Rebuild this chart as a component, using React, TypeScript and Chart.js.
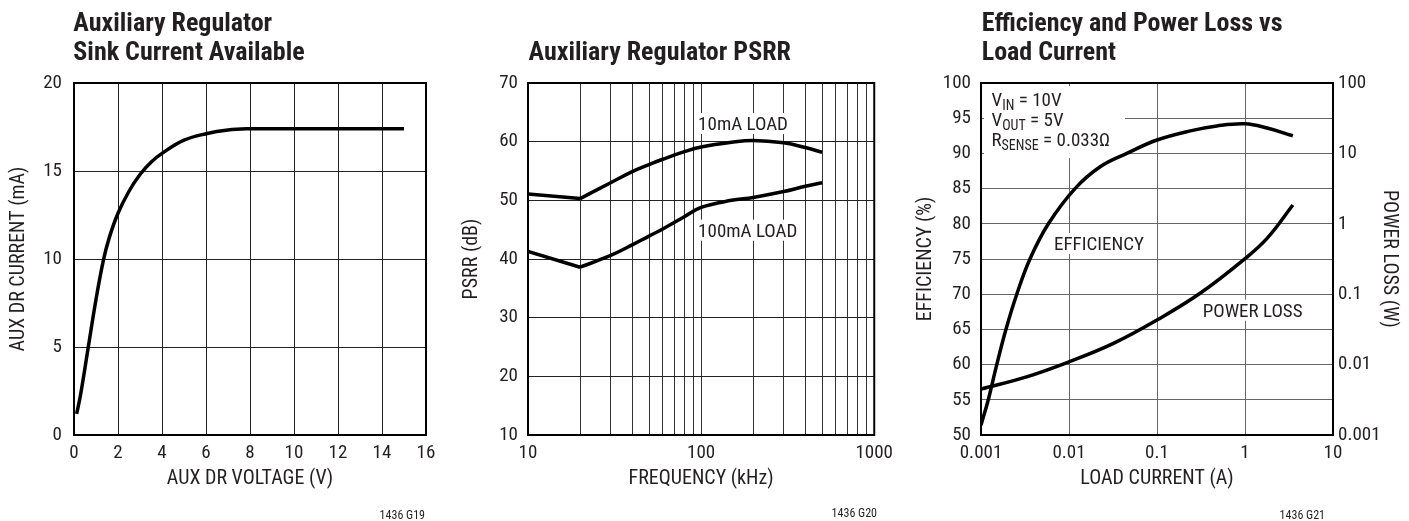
import React, { useEffect, useRef } from "react";
import { Chart, registerables } from "chart.js";

Chart.register(...registerables);

const FONT =
  "'Liberation Sans Narrow', 'Arial Narrow', 'Roboto Condensed', 'DejaVu Sans Condensed', 'Liberation Sans', sans-serif";
const TEXT = "#231f20";

// ---------- Chart 1: Auxiliary Regulator Sink Current Available ----------
const AUX_V = [0.12, 0.3, 0.65, 1.0, 1.33, 1.6, 2.0, 2.5, 3.0, 3.5, 4.0, 5.0, 6.0, 7.0, 8.0, 9.0, 12, 15];
const AUX_I = [1.2, 2.3, 5.0, 7.7, 9.9, 11.2, 12.6, 13.85, 14.8, 15.5, 16.0, 16.75, 17.12, 17.33, 17.4, 17.4, 17.4, 17.4];
const X1_TICKS = [0, 2, 4, 6, 8, 10, 12, 14, 16];
const Y1_TICKS = [0, 5, 10, 15, 20];

// ---------- Chart 2: Auxiliary Regulator PSRR ----------
const FREQ_KHZ = [10, 20, 30, 40, 50, 60, 80, 100, 150, 200, 300, 400, 500];
const PSRR_10MA = [51.1, 50.3, 53.0, 54.9, 56.1, 57.0, 58.3, 59.1, 59.9, 60.2, 59.8, 59.0, 58.2];
const PSRR_100MA = [41.3, 38.6, 40.6, 42.4, 43.9, 45.1, 47.2, 48.8, 50.0, 50.5, 51.5, 52.4, 53.0];
const PSRR_CORNER_INDEX = 1; // sharp corner at 20kHz
const X2_GRID = [10, 20, 30, 40, 50, 60, 70, 80, 90, 100, 200, 300, 400, 500, 600, 700, 800, 900, 1000];
const X2_LABELS = [10, 100, 1000];
const Y2_TICKS = [10, 20, 30, 40, 50, 60, 70];

// ---------- Chart 3: Efficiency and Power Loss vs Load Current ----------
const EFF_I = [0.001, 0.00121, 0.00151, 0.00192, 0.00255, 0.0036, 0.00583, 0.0117, 0.0226, 0.0454, 0.1, 0.239, 0.479, 1.0, 1.78, 3.5];
const EFF = [51.4, 55, 60, 65, 70, 75, 80, 85, 88.1, 90.0, 91.9, 93.2, 93.9, 94.2, 93.6, 92.5];
const LOSS_I = [0.001, 0.0033, 0.0101, 0.032, 0.1, 0.309, 1.0, 1.78, 3.5];
const LOSS_W = [0.0045, 0.0067, 0.011, 0.02, 0.043, 0.103, 0.32, 0.62, 1.85];
const X3_TICKS = [0.001, 0.01, 0.1, 1, 10];
const Y3_TICKS = [50, 55, 60, 65, 70, 75, 80, 85, 90, 95, 100];
const Y3R_TICKS = [0.001, 0.01, 0.1, 1, 10, 100];

const fixedTicks = (values: number[]) => (scale: any) => {
  scale.ticks = values.map((v) => ({ value: v }));
};

const tickFont = { family: FONT, size: 19 };
const titleFont = { family: FONT, size: 20 };

function xy(xs: number[], ys: number[]) {
  return xs.map((x, i) => ({ x, y: ys[i] }));
}

function lineDataset(data: any[], yAxisID = "y", tension = 0.4) {
  return {
    data,
    yAxisID,
    borderColor: "#000",
    borderWidth: 3.5,
    pointRadius: 0,
    fill: false,
    tension,
    borderCapStyle: "butt" as const,
    borderJoinStyle: "round" as const,
  };
}

// a curve with a sharp corner: straight segment up to the corner, smooth afterwards
function cornered(xs: number[], ys: number[], k: number) {
  const pts = xy(xs, ys);
  return [lineDataset(pts.slice(0, k + 1), "y", 0), lineDataset(pts.slice(k), "y", 0.4)];
}

function drawTitle(ctx: CanvasRenderingContext2D, lines: string[], x: number) {
  ctx.font = `bold 26px ${FONT}`;
  ctx.fillStyle = TEXT;
  ctx.textAlign = "left";
  ctx.textBaseline = "alphabetic";
  const base = lines.length === 1 ? [60] : [31, 60];
  lines.forEach((l, i) => ctx.fillText(l, x, base[i]));
}

function drawFootnote(ctx: CanvasRenderingContext2D, s: string, xRight: number, y: number) {
  ctx.font = `12px ${FONT}`;
  ctx.fillStyle = TEXT;
  ctx.textAlign = "right";
  ctx.textBaseline = "middle";
  ctx.fillText(s, xRight, y);
}

function boxedLabel(ctx: CanvasRenderingContext2D, s: string, x: number, baseline: number) {
  ctx.font = `19px ${FONT}`;
  const w = ctx.measureText(s).width;
  ctx.fillStyle = "#fff";
  ctx.fillRect(x - 2, baseline - 17, w + 4, 21);
  ctx.fillStyle = TEXT;
  ctx.textAlign = "left";
  ctx.textBaseline = "alphabetic";
  ctx.fillText(s, x, baseline);
}

function drawFrame(chart: any) {
  const { ctx, chartArea: a } = chart;
  ctx.save();
  ctx.strokeStyle = "#000";
  ctx.lineWidth = 2;
  ctx.strokeRect(a.left, a.top, a.right - a.left, a.bottom - a.top);
  ctx.restore();
}

function subText(ctx: CanvasRenderingContext2D, parts: [string, boolean][], x: number, y: number) {
  let cx = x;
  ctx.fillStyle = TEXT;
  ctx.textAlign = "left";
  ctx.textBaseline = "alphabetic";
  for (const [s, sub] of parts) {
    ctx.font = sub ? `14px ${FONT}` : `19px ${FONT}`;
    ctx.fillText(s, cx, sub ? y + 3.5 : y);
    cx += ctx.measureText(s).width;
  }
  return cx;
}

function baseScale(extra: any) {
  return {
    grid: { color: "#222", lineWidth: 1, drawTicks: false },
    border: { display: false },
    ...extra,
  };
}

function buildChart1(): any {
  return {
    type: "line",
    data: { datasets: [lineDataset(xy(AUX_V, AUX_I))] },
    options: {
      animation: false,
      responsive: false,
      maintainAspectRatio: false,
      layout: { padding: { top: 83, right: 24, bottom: 0, left: 0 } },
      plugins: { legend: { display: false }, tooltip: { enabled: false } },
      scales: {
        x: baseScale({
          type: "linear",
          min: 0,
          max: 16,
          afterBuildTicks: fixedTicks(X1_TICKS),
          afterFit: (s: any) => { s.height = 86; },
          ticks: { font: tickFont, color: TEXT, padding: 7, maxRotation: 0, autoSkip: false },
          title: { display: true, text: "AUX DR VOLTAGE (V)", font: titleFont, color: TEXT, padding: { top: 0, bottom: 30 } },
        }),
        y: baseScale({
          type: "linear",
          min: 0,
          max: 20,
          afterBuildTicks: fixedTicks(Y1_TICKS),
          afterFit: (s: any) => { s.width = 74; },
          ticks: { font: tickFont, color: TEXT, padding: 12, autoSkip: false },
          title: { display: true, text: "AUX DR CURRENT (mA)", font: titleFont, color: TEXT, padding: { top: 7, bottom: 0 } },
        }),
      },
    },
    plugins: [
      {
        id: "deco1",
        beforeDatasetsDraw(chart: any) {
          drawFrame(chart);
        },
        afterDraw(chart: any) {
          const ctx = chart.ctx;
          ctx.save();
          drawTitle(ctx, ["Auxiliary Regulator", "Sink Current Available"], chart.chartArea.left - 0.7);
          drawFootnote(ctx, "1436 G19", 425, 516);
          ctx.restore();
        },
      },
    ],
  };
}

function buildChart2(): any {
  return {
    type: "line",
    data: {
      datasets: [
        ...cornered(FREQ_KHZ, PSRR_10MA, PSRR_CORNER_INDEX),
        ...cornered(FREQ_KHZ, PSRR_100MA, PSRR_CORNER_INDEX),
      ],
    },
    options: {
      animation: false,
      responsive: false,
      maintainAspectRatio: false,
      layout: { padding: { top: 83, right: 21, bottom: 0, left: 0 } },
      plugins: { legend: { display: false }, tooltip: { enabled: false } },
      scales: {
        x: baseScale({
          type: "logarithmic",
          min: 10,
          max: 1000,
          grid: { color: "#333", lineWidth: 1, drawTicks: false },
          afterBuildTicks: fixedTicks(X2_GRID),
          afterFit: (s: any) => { s.height = 86; },
          ticks: {
            font: tickFont,
            color: TEXT,
            padding: 7,
            maxRotation: 0,
            autoSkip: false,
            callback: (v: any) => (X2_LABELS.includes(Number(v)) ? String(v) : ""),
          },
          title: { display: true, text: "FREQUENCY (kHz)", font: titleFont, color: TEXT, padding: { top: 0, bottom: 30 } },
        }),
        y: baseScale({
          type: "linear",
          min: 10,
          max: 70,
          afterBuildTicks: fixedTicks(Y2_TICKS),
          afterFit: (s: any) => { s.width = 78; },
          ticks: { font: tickFont, color: TEXT, padding: 10, autoSkip: false },
          title: { display: true, text: "PSRR (dB)", font: titleFont, color: TEXT, padding: { top: 10, bottom: 0 } },
        }),
      },
    },
    plugins: [
      {
        id: "deco2",
        beforeDatasetsDraw(chart: any) {
          const ctx = chart.ctx;
          const xs = chart.scales.x;
          ctx.save();
          const lx = xs.getPixelForValue(100) - 3;
          boxedLabel(ctx, "10mA LOAD", lx, 130);
          boxedLabel(ctx, "100mA LOAD", lx, 236.7);
          ctx.restore();
          drawFrame(chart);
        },
        afterDraw(chart: any) {
          const ctx = chart.ctx;
          ctx.save();
          drawTitle(ctx, ["Auxiliary Regulator PSRR"], chart.chartArea.left + 0.5);
          drawFootnote(ctx, "1436 G20", 877 - 450, 514);
          ctx.restore();
        },
      },
    ],
  };
}

function buildChart3(): any {
  return {
    type: "line",
    data: {
      datasets: [lineDataset(xy(EFF_I, EFF), "y"), lineDataset(xy(LOSS_I, LOSS_W), "y1")],
    },
    options: {
      animation: false,
      responsive: false,
      maintainAspectRatio: false,
      layout: { padding: { top: 83, right: 0, bottom: 0, left: 0 } },
      plugins: { legend: { display: false }, tooltip: { enabled: false } },
      scales: {
        x: baseScale({
          type: "logarithmic",
          min: 0.001,
          max: 10,
          grid: { color: "#666", lineWidth: 1, drawTicks: false },
          afterBuildTicks: fixedTicks(X3_TICKS),
          afterFit: (s: any) => { s.height = 86; },
          ticks: {
            font: tickFont,
            color: TEXT,
            padding: 7,
            maxRotation: 0,
            autoSkip: false,
            callback: (v: any) => String(v),
          },
          title: { display: true, text: "LOAD CURRENT (A)", font: titleFont, color: TEXT, padding: { top: 0, bottom: 30 } },
        }),
        y: baseScale({
          type: "linear",
          position: "left",
          min: 50,
          max: 100,
          grid: { color: "#666", lineWidth: 1, drawTicks: false },
          afterBuildTicks: fixedTicks(Y3_TICKS),
          afterFit: (s: any) => { s.width = 81; },
          ticks: { font: tickFont, color: TEXT, padding: 10, autoSkip: false },
          title: { display: true, text: "EFFICIENCY (%)", font: titleFont, color: TEXT, padding: { top: 14, bottom: 0 } },
        }),
        y1: baseScale({
          type: "logarithmic",
          position: "right",
          min: 0.001,
          max: 100,
          grid: { display: false, drawTicks: false },
          afterBuildTicks: fixedTicks(Y3R_TICKS),
          afterFit: (s: any) => { s.width = 76; },
          ticks: { font: tickFont, color: TEXT, padding: 5, autoSkip: false, callback: (v: any) => String(v) },
          title: { display: true, text: "POWER LOSS (W)", font: titleFont, color: TEXT, padding: { top: 8, bottom: 0 } },
        }),
      },
    },
    plugins: [
      {
        id: "deco3",
        beforeDatasetsDraw(chart: any) {
          const ctx = chart.ctx;
          const a = chart.chartArea;
          ctx.save();
          // white box behind the operating conditions
          ctx.fillStyle = "#fff";
          ctx.fillRect(a.left + 3, a.top + 3, 1125 - 900 - (a.left + 3), 158 - (a.top + 3));
          const tx = a.left + 10.5;
          subText(ctx, [["V", false], ["IN", true], [" = 10V", false]], tx, 106.3);
          subText(ctx, [["V", false], ["OUT", true], [" = 5V", false]], tx, 126.3);
          subText(ctx, [["R", false], ["SENSE", true], [" = 0.033Ω", false]], tx, 146.3);
          boxedLabel(ctx, "EFFICIENCY", 1054 - 900, 250);
          boxedLabel(ctx, "POWER LOSS", 1202.7 - 900, 316.7);
          ctx.restore();
          drawFrame(chart);
        },
        afterDraw(chart: any) {
          const ctx = chart.ctx;
          ctx.save();
          drawTitle(ctx, ["Efficiency and Power Loss vs", "Load Current"], chart.chartArea.left + 0.7);
          drawFootnote(ctx, "1436 G21", 1325 - 900, 516);
          ctx.restore();
        },
      },
    ],
  };
}

function ChartBox({ left, width, build }: { left: number; width: number; build: () => any }) {
  const ref = useRef<HTMLCanvasElement>(null);
  useEffect(() => {
    if (!ref.current) return;
    const chart = new Chart(ref.current, build());
    return () => chart.destroy();
  }, [build]);
  return (
    <canvas
      ref={ref}
      width={width}
      height={521}
      style={{ position: "absolute", left, top: 0, width, height: 521, display: "block" }}
    />
  );
}

export default function App() {
  return (
    <div style={{ position: "absolute", left: 0, top: 0, width: 1409, height: 521, background: "#fff", overflow: "hidden" }}>
      <ChartBox left={0} width={450} build={buildChart1} />
      <ChartBox left={450} width={450} build={buildChart2} />
      <ChartBox left={900} width={509} build={buildChart3} />
    </div>
  );
}
